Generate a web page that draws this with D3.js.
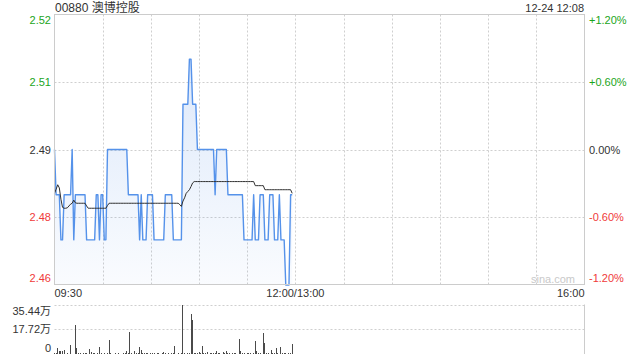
<!DOCTYPE html>
<html>
<head>
<meta charset="utf-8">
<script src="https://cdn.jsdelivr.net/npm/d3@7"></script>
<style>
  body { margin: 0; background: #fff; }
  text { font-family: "Liberation Sans", Arial, "Noto Sans CJK SC", sans-serif; }
</style>
</head>
<body>
<div id="chart"></div>
<script>
// chart data

var title = "00880 澳博控股";
var stamp = "12-24 12:08";
var prevClose = 2.49;

// one value per minute from 09:30
var prices = [
  2.49, 2.48, 2.48, 2.48, 2.47, 2.47, 2.48, 2.48, 2.48, 2.48,
  2.48, 2.49, 2.47, 2.48, 2.48, 2.48, 2.48, 2.48, 2.48, 2.48,
  2.47, 2.47, 2.47, 2.47, 2.47, 2.47, 2.48, 2.48, 2.47, 2.48,
  2.48, 2.47, 2.47, 2.49, 2.49, 2.49, 2.49, 2.49, 2.49, 2.49,
  2.49, 2.49, 2.49, 2.49, 2.49, 2.49, 2.48, 2.48, 2.48, 2.48,
  2.48, 2.48, 2.48, 2.47, 2.48, 2.47, 2.47, 2.47, 2.48, 2.48,
  2.48, 2.48, 2.47, 2.47, 2.47, 2.47, 2.47, 2.47, 2.47, 2.48,
  2.48, 2.48, 2.48, 2.48, 2.47, 2.47, 2.47, 2.47, 2.47, 2.47,
  2.50, 2.50, 2.50, 2.50, 2.51, 2.51, 2.50, 2.50, 2.50, 2.49,
  2.49, 2.49, 2.49, 2.49, 2.49, 2.49, 2.49, 2.49, 2.49, 2.49,
  2.48, 2.49, 2.49, 2.49, 2.49, 2.49, 2.49, 2.49, 2.48, 2.48,
  2.48, 2.48, 2.48, 2.48, 2.48, 2.48, 2.48, 2.48, 2.47, 2.47,
  2.47, 2.47, 2.47, 2.47, 2.48, 2.47, 2.47, 2.47, 2.48, 2.48,
  2.48, 2.47, 2.47, 2.47, 2.48, 2.48, 2.48, 2.47, 2.47, 2.47,
  2.48, 2.47, 2.47, 2.47, 2.46, 2.46, 2.46, 2.48, 2.48
];

var avgPrices = [
  2.4803, 2.4812, 2.4822, 2.4815, 2.4790, 2.4772, 2.4770, 2.4770, 2.4771, 2.4775,
  2.4779, 2.4781, 2.4788, 2.4782, 2.4781, 2.4781, 2.4781, 2.4781, 2.4781, 2.4781,
  2.4775, 2.4770, 2.4770, 2.4770, 2.4770, 2.4770, 2.4770, 2.4770, 2.4770, 2.4770,
  2.4770, 2.4770, 2.4770, 2.4776, 2.4781, 2.4781, 2.4781, 2.4781, 2.4781, 2.4781,
  2.4781, 2.4781, 2.4781, 2.4781, 2.4781, 2.4781, 2.4781, 2.4781, 2.4781, 2.4781,
  2.4781, 2.4781, 2.4781, 2.4781, 2.4781, 2.4781, 2.4781, 2.4781, 2.4781, 2.4781,
  2.4781, 2.4781, 2.4781, 2.4781, 2.4781, 2.4781, 2.4781, 2.4781, 2.4781, 2.4781,
  2.4781, 2.4781, 2.4781, 2.4781, 2.4781, 2.4781, 2.4781, 2.4781, 2.4778, 2.4774,
  2.4786, 2.4793, 2.4803, 2.4807, 2.4811, 2.4818, 2.4826, 2.4829, 2.4829, 2.4829,
  2.4829, 2.4829, 2.4829, 2.4829, 2.4829, 2.4829, 2.4829, 2.4829, 2.4829, 2.4829,
  2.4829, 2.4829, 2.4829, 2.4829, 2.4829, 2.4829, 2.4829, 2.4829, 2.4829, 2.4829,
  2.4829, 2.4829, 2.4829, 2.4829, 2.4829, 2.4829, 2.4829, 2.4829, 2.4829, 2.4829,
  2.4829, 2.4829, 2.4829, 2.4829, 2.4829, 2.4820, 2.4820, 2.4820, 2.4820, 2.4820,
  2.4820, 2.4811, 2.4811, 2.4811, 2.4811, 2.4811, 2.4811, 2.4811, 2.4811, 2.4811,
  2.4811, 2.4811, 2.4811, 2.4811, 2.4811, 2.4811, 2.4811, 2.4811, 2.4803
];

var volumes = [
  8000, 4000, 40000, 22000, 18000, 24000, 30000, 3000, 5000, 2000,
  68000, 3000, 2000, 205000, 40000, 5000, 4000, 3000, 6000, 4000,
  8000, 3000, 35000, 15000, 4000, 10000, 3000, 6000, 48000, 10000,
  3000, 5000, 2000, 4000, 100000, 4000, 3000, 2000, 5000, 3000,
  10000, 2000, 3000, 4000, 5000, 20000, 6000, 160000, 5000, 3000,
  25000, 10000, 4000, 48000, 32000, 6000, 4000, 5000, 7000, 3000,
  6000, 4000, 5000, 3000, 6000, 4000, 3000, 5000, 12000, 4000,
  3000, 5000, 2000, 4000, 6000, 60000, 3000, 4000, 2000, 5000,
  354400, 5000, 3000, 4000, 6000, 285000, 245000, 8000, 5000, 4000,
  15000, 6000, 58000, 5000, 4000, 12000, 3000, 5000, 4000, 6000,
  8000, 20000, 4000, 5000, 3000, 14000, 5000, 25000, 4000, 6000,
  3000, 5000, 4000, 6000, 3000, 110000, 22000, 5000, 4000, 3000,
  6000, 4000, 5000, 3000, 6000, 95000, 20000, 4000, 5000, 3000,
  150000, 80000, 4000, 6000, 3000, 28000, 5000, 4000, 45000, 6000,
  3000, 50000, 5000, 4000, 6000, 3000, 5000, 8000, 72000
];

var pctTicks = [1.2, 0.6, 0, -0.6, -1.2];
var priceLabels = ["2.52", "2.51", "2.49", "2.48", "2.46"];
var pctLabels = ["+1.20%", "+0.60%", "0.00%", "-0.60%", "-1.20%"];
var volMax = 354400;
var volLabels = ["35.44万", "17.72万", "0"];
var timeMinutes = [0, 150, 330];
var timeLabels = ["09:30", "12:00/13:00", "16:00"];

// set up chart

var width = 640,
  height = 360;

var plotLeft = 54.5, plotRight = 584.5,
  plotTop = 14.5, plotBottom = 284.5,
  volTop = 304.5, volBottom = 354;

var green = "#1ba51b", red = "#f03a3a", dark = "#333";

function tickColor(p) {
  return p > 0 ? green : (p < 0 ? red : dark);
}

var x = d3.scaleLinear()
    .domain([0, 330])
    .range([plotLeft, plotRight]);

var y = d3.scaleLinear()
    .domain([prevClose * (1 - 0.012), prevClose * (1 + 0.012)])
    .range([plotBottom, plotTop]);

var yv = d3.scaleLinear()
    .domain([0, volMax])
    .range([volBottom, volTop]);

var svg = d3.select("#chart").append("svg")
    .attr("width", width)
    .attr("height", height);

var defs = svg.append("defs");
var grad = defs.append("linearGradient")
    .attr("id", "fillGrad")
    .attr("gradientUnits", "userSpaceOnUse")
    .attr("x1", 0).attr("x2", 0)
    .attr("y1", plotTop).attr("y2", plotBottom);
grad.append("stop").attr("offset", "0%").attr("stop-color", "#4d8ae6").attr("stop-opacity", 0.22);
grad.append("stop").attr("offset", "100%").attr("stop-color", "#4d8ae6").attr("stop-opacity", 0.03);

// grid lines

var gridX = d3.range(30, 330, 30);

svg.append("g")
  .selectAll("line")
  .data(gridX)
  .enter().append("line")
  .attr("x1", function(d) { return Math.round(x(d)) + 0.5; })
  .attr("x2", function(d) { return Math.round(x(d)) + 0.5; })
  .attr("y1", plotTop)
  .attr("y2", plotBottom)
  .attr("stroke", "#cfcfcf")
  .attr("stroke-dasharray", "2,2");

svg.append("g")
  .selectAll("line")
  .data([0.6, 0, -0.6])
  .enter().append("line")
  .attr("x1", plotLeft)
  .attr("x2", plotRight)
  .attr("y1", function(d) { return Math.round(y(prevClose * (1 + d / 100))) + 0.5; })
  .attr("y2", function(d) { return Math.round(y(prevClose * (1 + d / 100))) + 0.5; })
  .attr("stroke", "#cfcfcf")
  .attr("stroke-dasharray", "2,2");

// price area and lines

var area = d3.area()
    .x(function(d, i) { return x(i); })
    .y0(plotBottom)
    .y1(function(d) { return y(d); });

var line = d3.line()
    .x(function(d, i) { return x(i); })
    .y(function(d) { return y(d); });

svg.append("path")
  .datum(prices)
  .attr("d", area)
  .attr("fill", "url(#fillGrad)");

// watermark
svg.append("text")
  .attr("x", 531)
  .attr("y", 283)
  .attr("font-size", 11)
  .attr("fill", "#c9c9c9")
  .text("sina.com");

svg.append("path")
  .datum(prices)
  .attr("d", line)
  .attr("fill", "none")
  .attr("stroke", "#5592ea")
  .attr("stroke-width", 1.4)
  .attr("stroke-linejoin", "round");

svg.append("path")
  .datum(avgPrices)
  .attr("d", line)
  .attr("fill", "none")
  .attr("stroke", "#2f2f2f")
  .attr("stroke-width", 1);

// border

svg.append("rect")
  .attr("x", plotLeft)
  .attr("y", plotTop)
  .attr("width", plotRight - plotLeft)
  .attr("height", plotBottom - plotTop)
  .attr("fill", "none")
  .attr("stroke", "#cccccc");

// axis labels

svg.append("g")
  .selectAll("text")
  .data(pctTicks)
  .enter().append("text")
  .attr("x", 51)
  .attr("y", function(d) {
    var v = y(prevClose * (1 + d / 100));
    return Math.max(plotTop + 5.5, Math.min(plotBottom - 7, v)) + 4;
  })
  .attr("text-anchor", "end")
  .attr("font-size", 11)
  .attr("fill", function(d) { return tickColor(d); })
  .text(function(d, i) { return priceLabels[i]; });

svg.append("g")
  .selectAll("text")
  .data(pctTicks)
  .enter().append("text")
  .attr("x", 589)
  .attr("y", function(d) {
    var v = y(prevClose * (1 + d / 100));
    return Math.max(plotTop + 5.5, Math.min(plotBottom - 7, v)) + 4;
  })
  .attr("font-size", 11)
  .attr("fill", function(d) { return tickColor(d); })
  .text(function(d, i) { return pctLabels[i]; });

svg.append("g")
  .selectAll("text")
  .data(timeMinutes)
  .enter().append("text")
  .attr("x", function(d) { return x(d); })
  .attr("y", 297)
  .attr("font-size", 11)
  .attr("fill", dark)
  .attr("text-anchor", function(d, i) { return ["start", "middle", "end"][i]; })
  .text(function(d, i) { return timeLabels[i]; });

// title

svg.append("text")
  .attr("x", 55)
  .attr("y", 11.5)
  .attr("font-size", 12)
  .attr("fill", dark)
  .text(title);

svg.append("text")
  .attr("x", 584)
  .attr("y", 11.5)
  .attr("font-size", 11)
  .attr("text-anchor", "end")
  .attr("fill", dark)
  .text(stamp);

// volume panel

svg.append("g")
  .selectAll("line")
  .data([volMax, volMax / 2])
  .enter().append("line")
  .attr("x1", plotLeft)
  .attr("x2", plotRight)
  .attr("y1", function(d) { return Math.round(yv(d)) + 0.5; })
  .attr("y2", function(d) { return Math.round(yv(d)) + 0.5; })
  .attr("stroke", "#cfcfcf")
  .attr("stroke-dasharray", "2,2");

svg.append("line")
  .attr("x1", plotRight).attr("x2", plotRight)
  .attr("y1", volTop).attr("y2", volBottom)
  .attr("stroke", "#cccccc");

svg.append("g")
  .attr("shape-rendering", "crispEdges")
  .selectAll("rect")
  .data(volumes)
  .enter().append("rect")
  .attr("x", function(d, i) { return Math.floor(x(i)); })
  .attr("width", 1)
  .attr("y", function(d) { return Math.round(yv(d)); })
  .attr("height", function(d) { return volBottom - Math.round(yv(d)); })
  .attr("fill", "#4a4a4a");

svg.append("g")
  .selectAll("text")
  .data([volMax, volMax / 2, 0])
  .enter().append("text")
  .attr("x", 51)
  .attr("y", function(d) {
    return Math.max(volTop + 6.5, Math.min(volBottom - 6, yv(d))) + 4;
  })
  .attr("text-anchor", "end")
  .attr("font-size", 11)
  .attr("fill", dark)
  .text(function(d, i) { return volLabels[i]; });

</script>
</body>
</html>
